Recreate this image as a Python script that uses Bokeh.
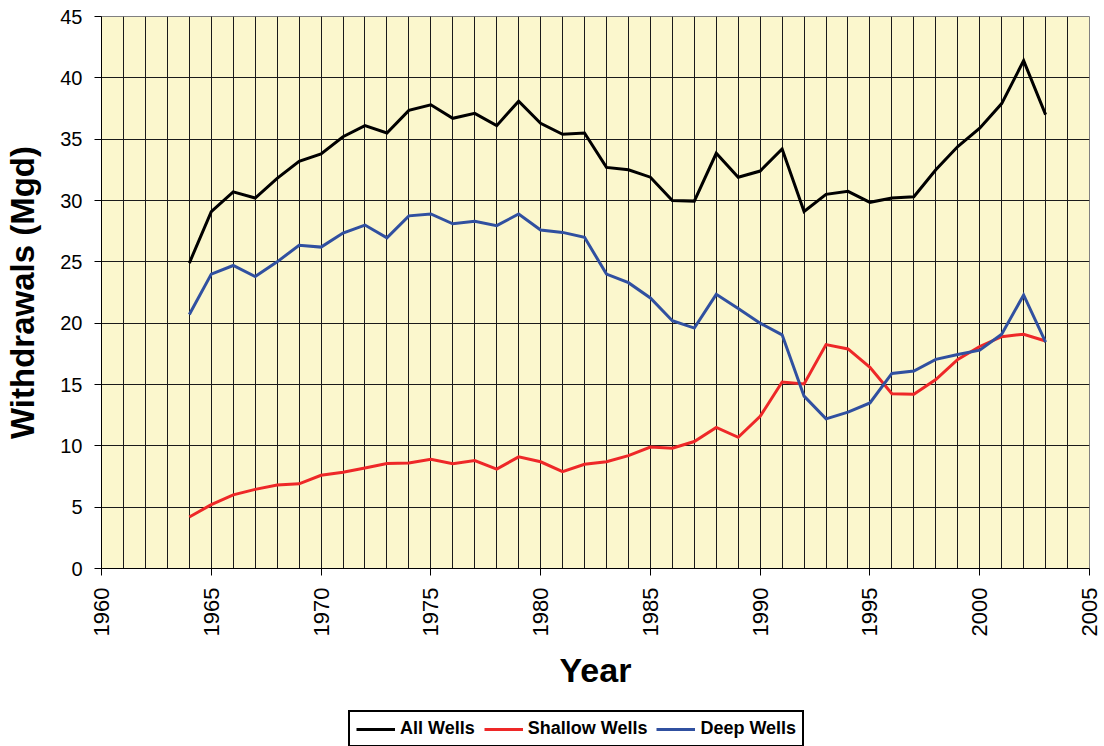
import math
from bokeh.plotting import figure
from bokeh.layouts import column
from bokeh.models import (Range1d, SingleIntervalTicker, Legend, LegendItem)
from bokeh.embed import file_html
from bokeh.resources import INLINE

years = list(range(1964, 2004))
all_wells = [24.9, 29.1, 30.7, 30.2, 31.8, 33.2, 33.8, 35.2, 36.1, 35.5,
             37.35, 37.8, 36.7, 37.1, 36.1, 38.1, 36.3, 35.4, 35.5, 32.7,
             32.5, 31.9, 30.0, 29.95, 33.85, 31.9, 32.4, 34.2, 29.1, 30.5,
             30.75, 29.85, 30.2, 30.3, 32.5, 34.4, 35.9, 37.9, 41.4, 37.0]
shallow_wells = [4.2, 5.2, 6.0, 6.45, 6.8, 6.9, 7.6, 7.85, 8.2, 8.55,
                 8.6, 8.9, 8.55, 8.8, 8.1, 9.1, 8.7, 7.9, 8.5, 8.7,
                 9.2, 9.9, 9.8, 10.35, 11.5, 10.7, 12.4, 15.2, 15.05, 18.25,
                 17.9, 16.4, 14.25, 14.2, 15.4, 17.05, 18.1, 18.9, 19.1, 18.55]
deep_wells = [20.7, 24.0, 24.7, 23.8, 25.0, 26.35, 26.2, 27.35, 28.0, 26.95,
              28.75, 28.9, 28.1, 28.3, 27.95, 28.9, 27.6, 27.4, 27.0, 24.0,
              23.3, 22.05, 20.2, 19.6, 22.35, 21.2, 20.0, 19.05, 14.05, 12.2,
              12.75, 13.5, 15.9, 16.1, 17.05, 17.45, 17.8, 19.1, 22.3, 18.45]
series_names = ["All Wells", "Shallow Wells", "Deep Wells"]
series_colors = ["#000000", "#EE2828", "#3050A0"]
x_title = "Year"
y_title = "Withdrawals (Mgd)"

FONT = "Liberation Sans"

p = figure(width=1104, height=700, output_backend="svg", toolbar_location=None,
           x_range=Range1d(1960, 2005), y_range=Range1d(0, 45),
           min_border_left=101, min_border_right=15, min_border_top=16,
           min_border_bottom=132)

p.background_fill_color = "#FBF7CD"
p.border_fill_color = "white"
p.outline_line_color = "#808080"
p.outline_line_width = 1

p.xaxis.ticker = SingleIntervalTicker(interval=5, num_minor_ticks=5)
p.yaxis.ticker = SingleIntervalTicker(interval=5, num_minor_ticks=0)

for ax in (p.xaxis, p.yaxis):
    ax.axis_line_color = "black"
    ax.axis_line_width = 1
    ax.major_tick_line_color = "black"
    ax.major_tick_out = 7
    ax.major_tick_in = 0
    ax.minor_tick_out = 0
    ax.minor_tick_in = 0
    ax.major_label_text_font = FONT
    ax.major_label_text_color = "black"
    ax.major_label_standoff = 12
    ax.axis_label_text_font = FONT
    ax.axis_label_text_font_style = "bold"
    ax.axis_label_text_color = "black"

p.xaxis.major_label_text_font_size = "22px"
p.yaxis.major_label_text_font_size = "20px"
p.xaxis.major_label_orientation = math.pi / 2
p.xaxis.axis_label = x_title
p.yaxis.axis_label = y_title
p.xaxis.axis_label_text_font_size = "34px"
p.yaxis.axis_label_text_font_size = "33px"
p.xaxis.axis_label_standoff = 12
p.yaxis.axis_label_standoff = 16

p.xgrid.grid_line_color = "#1a1a1a"
p.xgrid.grid_line_width = 1
p.xgrid.minor_grid_line_color = "#1a1a1a"
p.xgrid.minor_grid_line_width = 1
p.ygrid.grid_line_color = "#1a1a1a"
p.ygrid.grid_line_width = 1

for data, color in zip([all_wells, shallow_wells, deep_wells], series_colors):
    p.line(years, data, line_color=color, line_width=3, line_join="miter")

# legend strip below the chart
lf = figure(width=1104, height=46, output_backend="svg", toolbar_location=None,
            x_axis_type=None, y_axis_type=None, min_border=0,
            x_range=Range1d(0, 1), y_range=Range1d(0, 1))
lf.outline_line_color = None
lf.xgrid.visible = False
lf.ygrid.visible = False
lf.background_fill_color = "white"

# proxy lines (outside the visible range) so the legend can draw its samples
proxies = [lf.line([-2, -1], [-2, -1], line_color=c, line_width=3) for c in series_colors]

legend = Legend(items=[LegendItem(label=n, renderers=[r]) for n, r in zip(series_names, proxies)],
                orientation="horizontal", location=(247, -1))
legend.label_text_font = FONT
legend.label_text_font_style = "bold"
legend.label_text_font_size = "18px"
legend.label_text_color = "black"
legend.glyph_width = 39
legend.glyph_height = 20
legend.label_height = 21
legend.label_standoff = 5
legend.spacing = 9
legend.padding = 6
legend.margin = 0
legend.border_line_color = "black"
legend.border_line_alpha = 1
legend.border_line_width = 2
legend.background_fill_color = "white"
legend.background_fill_alpha = 1
lf.add_layout(legend)

open("out.html", "w").write(file_html(column(p, lf, spacing=0), INLINE))
